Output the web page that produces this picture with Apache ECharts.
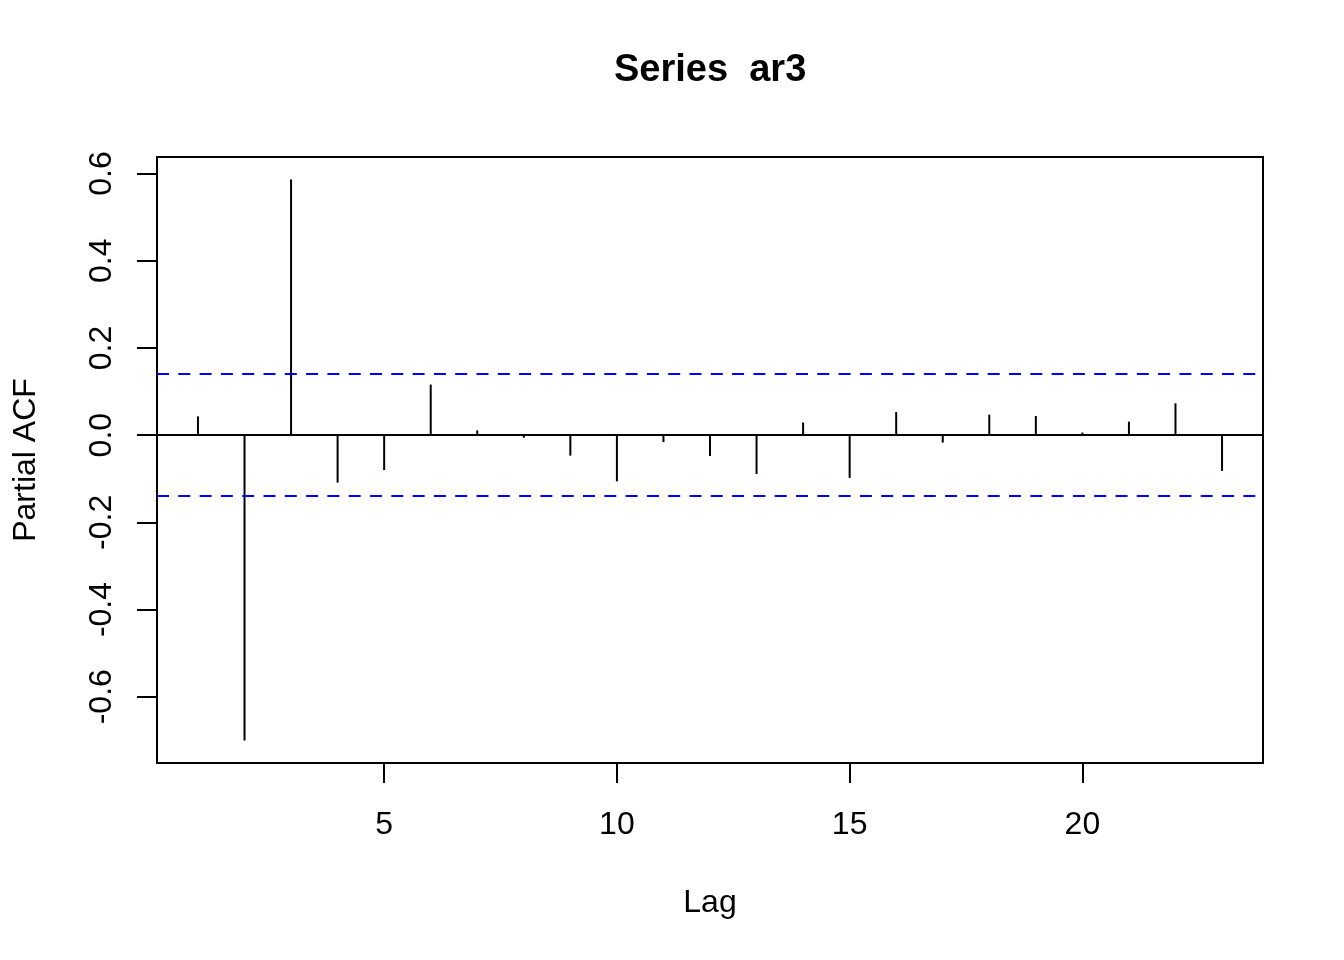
<!DOCTYPE html>
<html>
<head>
<meta charset="utf-8">
<script src="https://cdn.jsdelivr.net/npm/echarts@6/dist/echarts.min.js"></script>
<style>html,body{margin:0;padding:0;background:#fff}#c{width:1344px;height:960px}</style>
</head>
<body>
<div id="c"></div>
<script>
const lags = [1,2,3,4,5,6,7,8,9,10,11,12,13,14,15,16,17,18,19,20,21,22,23];
const pacf = [0.043,-0.7005,0.5865,-0.109,-0.080,0.116,0.011,-0.006,-0.047,-0.106,-0.016,-0.048,-0.089,0.029,-0.098,0.053,-0.017,0.047,0.044,0.006,0.031,0.073,-0.082];
const ciLimit = 0.1386;
const xTicks = [5,10,15,20];
const yTicks = [-0.6,-0.4,-0.2,0.0,0.2,0.4,0.6];
const titleText = 'Series  ar3';
const xName = 'Lag';
const yName = 'Partial ACF';

const font = "'Liberation Sans', Arial, Helvetica, sans-serif";
const xMin = 1 - 0.04 * (lags[lags.length-1] - 1);
const xMax = lags[lags.length-1] + 0.04 * (lags[lags.length-1] - 1);
const yLo = Math.min(...pacf, -ciLimit), yHi = Math.max(...pacf, ciLimit);
const yMin = yLo - 0.04 * (yHi - yLo), yMax = yHi + 0.04 * (yHi - yLo);

const chart = echarts.init(document.getElementById('c'), null, {renderer:'canvas'});
chart.setOption({
  backgroundColor: '#fff',
  animation: false,
  title: {
    text: titleText, left: 614, top: 52, padding: 0,
    textStyle: {fontFamily: font, fontSize: 38, fontWeight: 'bold', color: '#000'}
  },
  grid: {
    left: 157, top: 157, right: 81, bottom: 197,
    containLabel: false, outerBoundsMode: 'none',
    show: true, borderColor: '#000', borderWidth: 2, backgroundColor: 'transparent'
  },
  xAxis: {
    type: 'value', min: xMin, max: xMax,
    name: xName, nameLocation: 'middle', nameGap: 124,
    nameTextStyle: {fontFamily: font, fontSize: 32, color: '#000'},
    axisLine: {show: true, onZero: false, lineStyle: {color: '#000', width: 2}},
    axisTick: {show: true, inside: false, length: 20, customValues: xTicks, lineStyle: {color: '#000', width: 2}},
    axisLabel: {show: true, customValues: xTicks, margin: 46, fontFamily: font, fontSize: 32, color: '#000'},
    splitLine: {show: false}
  },
  yAxis: {
    type: 'value', min: yMin, max: yMax,
    name: yName, nameLocation: 'middle', nameGap: 115, nameRotate: 90,
    nameTextStyle: {fontFamily: font, fontSize: 32, color: '#000'},
    axisLine: {show: true, onZero: false, lineStyle: {color: '#000', width: 2}},
    axisTick: {show: true, inside: false, length: 20, customValues: yTicks, lineStyle: {color: '#000', width: 2}},
    axisLabel: {show: true, customValues: yTicks, rotate: 90, margin: 39, fontFamily: font, fontSize: 32, color: '#000',
      formatter: v => (Math.abs(v) < 1e-9 ? 0 : v).toFixed(1)},
    splitLine: {show: false}
  },
  series: [{
    type: 'bar',
    data: lags.map((l, i) => [l, pacf[i]]),
    barWidth: 2,
    itemStyle: {color: '#000'},
    silent: true,
    markLine: {
      silent: true, symbol: ['none','none'], label: {show: false},
      data: [
        {yAxis: 0, lineStyle: {color: '#000', width: 2, type: 'solid'}},
        {yAxis: ciLimit, lineStyle: {color: '#0000ff', width: 2, type: [12, 9.3]}},
        {yAxis: -ciLimit, lineStyle: {color: '#0000ff', width: 2, type: [12, 9.3]}}
      ]
    }
  }]
});
</script>
</body>
</html>
